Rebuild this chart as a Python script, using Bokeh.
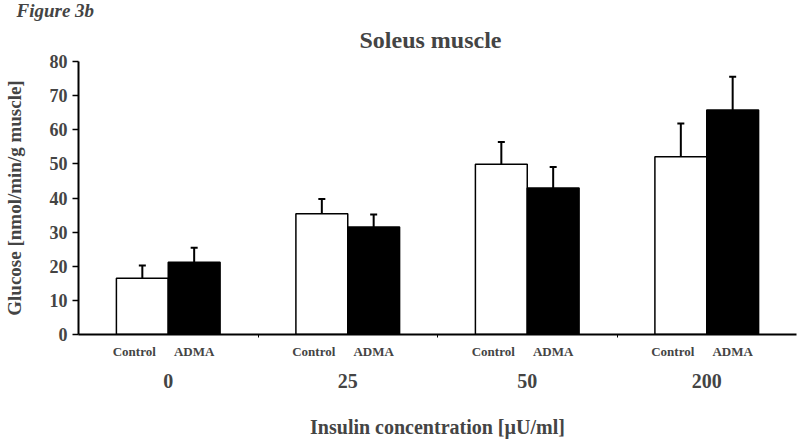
from bokeh.plotting import figure
from bokeh.models import (Range1d, FixedTicker, LinearAxis, Whisker, TeeHead,
                          ColumnDataSource, Title, CustomJSTickFormatter)
from bokeh.embed import file_html
from bokeh.resources import INLINE

groups = ["0", "25", "50", "200"]
subs = ["Control", "ADMA"]
control = [16.5, 35.4, 49.9, 52.1]
control_err = [3.7, 4.3, 6.5, 9.7]
adma = [21.2, 31.5, 42.9, 65.8]
adma_err = [4.2, 3.7, 6.2, 9.7]
y_ticks = [0, 10, 20, 30, 40, 50, 60, 70, 80]

FONT = "Liberation Serif"
half = 0.1444
bw = 0.2889

xc = [i + 0.5 - half for i in range(len(groups))]
xa = [i + 0.5 + half for i in range(len(groups))]

src_c = ColumnDataSource(dict(x=xc, top=control,
                              upper=[v + e for v, e in zip(control, control_err)]))
src_a = ColumnDataSource(dict(x=xa, top=adma,
                              upper=[v + e for v, e in zip(adma, adma_err)]))

p = figure(width=800, height=443,
           min_border_left=76, min_border_right=4, min_border_top=61, min_border_bottom=109,
           x_range=Range1d(0, len(groups)), y_range=Range1d(0, 80),
           output_backend="svg", toolbar_location=None, tools="",
           x_axis_location=None)
p.outline_line_color = None
p.xgrid.grid_line_color = None
p.ygrid.grid_line_color = None
p.background_fill_color = "white"
p.border_fill_color = "white"

p.title.text = "Figure 3b"
p.title.align = "left"
p.title.text_font = FONT
p.title.text_font_size = "19px"
p.title.text_font_style = "bold italic"
p.title.offset = -62
p.title.standoff = -9
p.add_layout(Title(text="Soleus muscle", align="left", text_font=FONT,
                   text_font_size="24px", text_font_style="bold",
                   offset=281, standoff=17), "above")

p.vbar(x="x", top="top", width=bw, bottom=0, source=src_c,
       fill_color="white", line_color="black", line_width=1.5)
p.vbar(x="x", top="top", width=bw, bottom=0, source=src_a,
       fill_color="black", line_color="black", line_width=1.5)

for src in (src_c, src_a):
    w = Whisker(base="x", lower="top", upper="upper", source=src, dimension="height",
                line_color="black", line_width=2, lower_head=None,
                upper_head=TeeHead(size=7, line_color="black", line_width=2))
    p.add_layout(w)

# y axis
ya = p.yaxis[0]
ya.ticker = FixedTicker(ticks=y_ticks)
ya.axis_label = "Glucose [nmol/min/g muscle]"
ya.axis_label_text_font = FONT
ya.axis_label_text_font_size = "19px"
ya.axis_label_text_font_style = "bold"
ya.axis_label_standoff = 22
ya.major_label_text_font = FONT
ya.major_label_text_font_size = "18px"
ya.major_label_text_font_style = "bold"
ya.major_label_standoff = 5
ya.axis_line_width = 2
ya.major_tick_line_width = 1.5
ya.major_tick_out = 6
ya.major_tick_in = 0
ya.minor_tick_out = 0
ya.minor_tick_in = 0
ya.axis_line_color = "black"

# x axis 1: sub labels (Control label sits slightly left of its bar)
sub_ticks = []
sub_labels = []
for i in range(len(groups)):
    sub_ticks += [xc[i] - 0.045, xa[i]]
    sub_labels += subs
ax1 = LinearAxis(ticker=FixedTicker(ticks=sub_ticks, minor_ticks=[1, 2, 3]),
                 formatter=CustomJSTickFormatter(args=dict(labels=sub_labels),
                                                 code="return labels[index];"))
ax1.axis_line_width = 2
ax1.axis_line_color = "black"
ax1.major_tick_in = 0
ax1.major_tick_out = 0
ax1.minor_tick_in = 0
ax1.minor_tick_out = 3
ax1.minor_tick_line_width = 1
ax1.major_label_standoff = 6
ax1.major_label_text_font = FONT
ax1.major_label_text_font_size = "13px"
ax1.major_label_text_font_style = "bold"
p.add_layout(ax1, "below")

# x axis 2: group labels
ax2 = LinearAxis(ticker=FixedTicker(ticks=[i + 0.5 for i in range(len(groups))]),
                 major_label_overrides={i + 0.5: g for i, g in enumerate(groups)})
ax2.axis_line_color = None
ax2.major_tick_line_color = None
ax2.minor_tick_line_color = None
ax2.major_label_standoff = 6
ax2.major_label_text_font = FONT
ax2.major_label_text_font_size = "20px"
ax2.major_label_text_font_style = "bold"
ax2.axis_label = "Insulin concentration [\u00b5U/ml]"
ax2.axis_label_text_font = FONT
ax2.axis_label_text_font_size = "20px"
ax2.axis_label_text_font_style = "bold"
ax2.axis_label_standoff = 25
p.add_layout(ax2, "below")

open("out.html", "w").write(file_html(p, INLINE))
